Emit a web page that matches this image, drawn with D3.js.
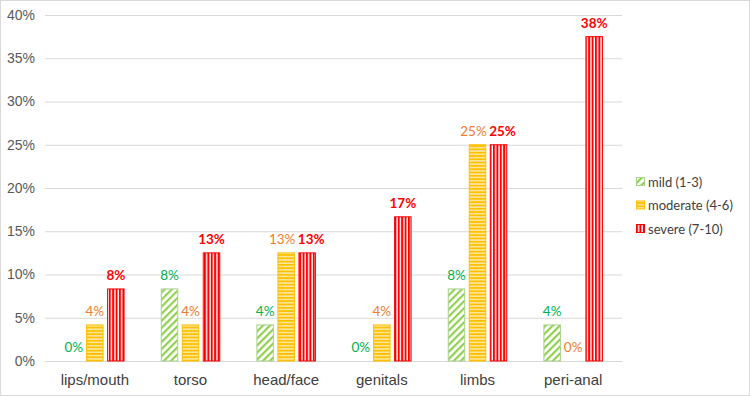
<!DOCTYPE html>
<html><head><meta charset="utf-8">
<script src="https://cdn.jsdelivr.net/npm/d3@7"></script>
<style>body{margin:0;background:#fff}svg{display:block;font-family:Lato,"Open Sans",sans-serif}</style>
</head><body><svg id="c" width="750" height="396"></svg>
<script>
const categories = ["lips/mouth","torso","head/face","genitals","limbs","peri-anal"];
const mild = [0, 8.33, 4.17, 0, 8.33, 4.17];
const moderate = [4.17, 4.17, 12.5, 4.17, 25, 0];
const severe = [8.33, 12.5, 12.5, 16.67, 25, 37.5];
const seriesNames = ["mild (1-3)","moderate (4-6)","severe (7-10)"];
const yTicks = [0,5,10,15,20,25,30,35,40];

const svg = d3.select("#c");
const defs = svg.append("defs");
const pg = defs.append("pattern").attr("id","pMild").attr("patternUnits","userSpaceOnUse").attr("width",5).attr("height",5).attr("patternTransform","rotate(45)");
pg.append("rect").attr("width",5).attr("height",5).attr("fill","#fff");
pg.append("rect").attr("width",2.2).attr("height",5).attr("fill","#92D050");
const po = defs.append("pattern").attr("id","pMod").attr("patternUnits","userSpaceOnUse").attr("width",4).attr("height",3.3);
po.append("rect").attr("width",4).attr("height",3.3).attr("fill","#FFE699");
po.append("rect").attr("width",4).attr("height",1.7).attr("fill","#FFC000");
const pr = defs.append("pattern").attr("id","pSev").attr("patternUnits","userSpaceOnUse").attr("width",3.4).attr("height",4);
pr.append("rect").attr("width",3.4).attr("height",4).attr("fill","#fff");
pr.append("rect").attr("width",2).attr("height",4).attr("fill","#FF0000");

const fills = ["url(#pMild)","url(#pMod)","url(#pSev)"];
const strokes = ["#A9D18E","#FFC000","#FF0000"];
const labelColors = ["#00B050","#ED7D31","#FF0000"];
const series = [mild, moderate, severe];

svg.append("rect").attr("x",0.5).attr("y",0.5).attr("width",749).attr("height",395).attr("fill","none").attr("stroke","#D9D9D9");

const x0 = 47, x1 = 621, yTop = 15, yBot = 361;
const x = d3.scaleBand().domain(categories).range([x0,x1]).paddingInner(0.378).paddingOuter(0.189);
const xs = d3.scaleBand().domain([0,1,2]).range([0,x.bandwidth()]).paddingInner(0.167);
const y = d3.scaleLinear().domain([0,40]).range([yBot,yTop]);

const yAxis = d3.axisLeft(y).tickValues(yTicks).tickFormat(d=>d+"%").tickSize(-(x1+1-45)).tickPadding(10);
const ga = svg.append("g").attr("transform","translate(45,0)").call(yAxis);
ga.select(".domain").remove();
ga.selectAll(".tick line").attr("stroke","#D9D9D9").attr("stroke-width",1);
ga.selectAll(".tick text").attr("fill","#595959").attr("font-size",14);

const xAxis = d3.axisBottom(x).tickSize(0).tickPadding(13);
const gx = svg.append("g").attr("transform",`translate(0,${yBot})`).call(xAxis);
gx.select(".domain").attr("stroke","#D9D9D9");
gx.selectAll(".tick text").attr("fill","#404040").attr("font-size",15);

// nudge adjacent labels apart when they sit at the same height
function nudge(si, i) {
  const near = (a, b) => Math.abs(y(a) - y(b)) < 14;
  if (si === 1 && near(moderate[i], severe[i])) return -4;
  if (si === 2 && near(moderate[i], severe[i])) return 4;
  return 0;
}

series.forEach((vals, si) => {
  const g = svg.append("g");
  g.selectAll("rect").data(vals).join("rect")
    .attr("x",(d,i)=>x(categories[i])+xs(si)+0.5)
    .attr("y",d=>y(d))
    .attr("width",xs.bandwidth()-1)
    .attr("height",d=>Math.max(0,yBot-y(d)))
    .attr("fill",fills[si]).attr("stroke",d=>d>0?strokes[si]:"none").attr("stroke-width",1);
  g.selectAll("text").data(vals).join("text")
    .attr("x",(d,i)=>x(categories[i])+xs(si)+xs.bandwidth()/2+nudge(si,i))
    .attr("y",d=>y(d)-9)
    .attr("text-anchor","middle")
    .attr("fill",labelColors[si]).attr("font-size",13.5)
    .attr("font-weight",si===2?"bold":"normal")
    .text(d=>Math.round(d)+"%");
});

const lg = svg.append("g").attr("transform","translate(636,182)");
seriesNames.forEach((n,i)=>{
  const r = lg.append("g").attr("transform",`translate(0,${i*23.5})`);
  r.append("rect").attr("x",0.5).attr("y",-4.5).attr("width",8).attr("height",8).attr("fill",fills[i]).attr("stroke",strokes[i]);
  r.append("text").attr("x",12).attr("y",0).attr("dy","0.35em").attr("fill","#404040").attr("font-size",13).text(n);
});
</script></body></html>
